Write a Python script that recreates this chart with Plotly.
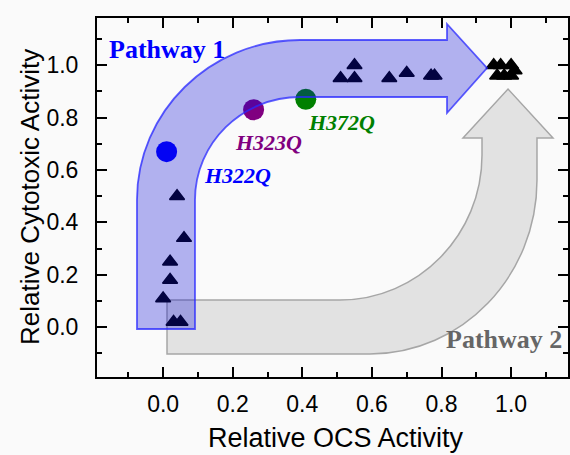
import plotly.graph_objects as go

# ---------------- data ----------------
tri_x = [0.04, 0.06, 0.02, 0.02, 0.00, 0.03, 0.05,
         0.51, 0.55, 0.55, 0.65, 0.70, 0.77, 0.78,
         0.95, 0.97, 1.00, 0.96, 0.98, 1.00, 1.01]
tri_y = [0.50, 0.34, 0.25, 0.18, 0.11, 0.02, 0.02,
         0.95, 1.00, 0.95, 0.95, 0.97, 0.96, 0.96,
         1.00, 1.00, 1.00, 0.96, 0.96, 0.96, 0.98]

mut_names = ["H322Q", "H323Q", "H372Q"]
mut_x = [0.01, 0.26, 0.41]
mut_y = [0.67, 0.83, 0.87]
mut_colors = ["#0000ff", "#800080", "#008000"]

x_ticks = [0.0, 0.2, 0.4, 0.6, 0.8, 1.0]
y_ticks = [0.0, 0.2, 0.4, 0.6, 0.8, 1.0]
minor_ticks = [-0.1, 0.1, 0.3, 0.5, 0.7, 0.9, 1.1]

# ---------------- layout constants ----------------
W, H = 570, 455
ML, MT, MR, MB = 97, 18, 2, 78
XR = [-0.19, 1.1635]
YR = [-0.19, 1.18]
PW, PH = W - ML - MR, H - MT - MB


def px2x(px):
    return XR[0] + (px - ML) / PW * (XR[1] - XR[0])


def py2y(py):
    return YR[1] - (py - MT) / PH * (YR[1] - YR[0])


def build_path(cmds):
    out = []
    for c in cmds:
        op = c[0]
        if op == "Z":
            out.append("Z")
            continue
        pts = " ".join(f"{px2x(p[0]):.4f},{py2y(p[1]):.4f}" for p in c[1:])
        out.append(f"{op} {pts}")
    return " ".join(out)


# Pathway 1 (blue) arrow, in pixel space
blue_path = build_path([
    ("M", (137, 329)), ("L", (137, 200)),
    ("C", (137, 112), (210, 40), (300, 40)),
    ("L", (447, 40)), ("L", (447, 24)), ("L", (487, 68)),
    ("L", (447, 113)), ("L", (447, 97)), ("L", (300, 97)),
    ("C", (242, 97), (195, 143), (195, 200)),
    ("L", (195, 329)), ("Z",),
])

# Pathway 2 (gray) arrow
gray_path = build_path([
    ("M", (167, 300)), ("L", (340, 300)),
    ("C", (418, 300), (482, 235), (482, 155)),
    ("L", (482, 138)), ("L", (463, 138)), ("L", (508, 89)),
    ("L", (553, 138)), ("L", (537, 138)), ("L", (537, 180)),
    ("C", (537, 276), (462, 354), (370, 354)),
    ("L", (167, 354)), ("Z",),
])

fig = go.Figure()

fig.add_trace(go.Scatter(
    x=tri_x, y=tri_y, mode="markers",
    marker=dict(symbol="triangle-up", size=13, color="black",
                line=dict(color="black", width=1.5)),
    showlegend=False, hoverinfo="skip"))

fig.add_trace(go.Scatter(
    x=mut_x, y=mut_y, mode="markers",
    marker=dict(symbol="circle", size=21, color=mut_colors, line=dict(width=0)),
    showlegend=False, hoverinfo="skip"))

fig.add_shape(type="path", path=gray_path, xref="x", yref="y",
              fillcolor="#e2e2e2", line=dict(color="#a6a6a6", width=1.5),
              layer="below")
fig.add_shape(type="path", path=blue_path, xref="x", yref="y",
              fillcolor="rgba(10,10,215,0.30)",
              line=dict(color="rgba(40,40,255,0.75)", width=1.8),
              layer="above")

# mutant labels (pixel offsets from the points)
label_offsets = [(71, -24), (15, -33), (36, -23)]
for name, x, y, col, (dx, dy) in zip(mut_names, mut_x, mut_y, mut_colors, label_offsets):
    fig.add_annotation(x=x, y=y, xref="x", yref="y", text=f"<b><i>{name}</i></b>",
                       showarrow=False, xshift=dx, yshift=dy,
                       font=dict(family="Liberation Serif", size=22, color=col))

fig.add_annotation(x=px2x(167), y=py2y(49), xref="x", yref="y",
                   text="<b>Pathway 1</b>", showarrow=False,
                   font=dict(family="Liberation Serif", size=26, color="#0000ff"))
fig.add_annotation(x=px2x(504), y=py2y(339), xref="x", yref="y",
                   text="<b>Pathway 2</b>", showarrow=False,
                   font=dict(family="Liberation Serif", size=26, color="#666666"))

# axis titles as annotations (pixel placement)
fig.add_annotation(x=(336 - ML) / PW, y=-(438 - MT - PH) / PH, xref="paper", yref="paper",
                   text="Relative OCS Activity", showarrow=False,
                   xanchor="center", yanchor="middle",
                   font=dict(family="Liberation Sans", size=27, color="black"))
fig.add_annotation(x=(30 - ML) / PW, y=(H - MB - 197) / PH, xref="paper", yref="paper",
                   text="Relative Cytotoxic Activity", showarrow=False, textangle=-90,
                   xanchor="center", yanchor="middle",
                   font=dict(family="Liberation Sans", size=26, color="black"))

axis_common = dict(
    showline=True, linewidth=2, linecolor="black", mirror="ticks",
    ticks="inside", ticklen=10, tickwidth=1.8, tickcolor="black",
    minor=dict(tickvals=minor_ticks, ticks="inside", ticklen=5,
               tickwidth=1.8, tickcolor="black"),
    showgrid=False, zeroline=False, automargin=False,
    tickfont=dict(family="Liberation Sans", size=23, color="black"),
    tickformat=".1f",
)

fig.update_layout(
    xaxis=dict(range=XR, tickvals=x_ticks, ticklabelstandoff=5, **axis_common),
    yaxis=dict(range=YR, tickvals=y_ticks, ticklabelstandoff=12, **axis_common),
    width=W, height=H,
    margin=dict(l=ML, r=MR, t=MT, b=MB, pad=0),
    paper_bgcolor="#fafafa", plot_bgcolor="#fafafa",
    showlegend=False,
)

fig.write_html("out.html")
